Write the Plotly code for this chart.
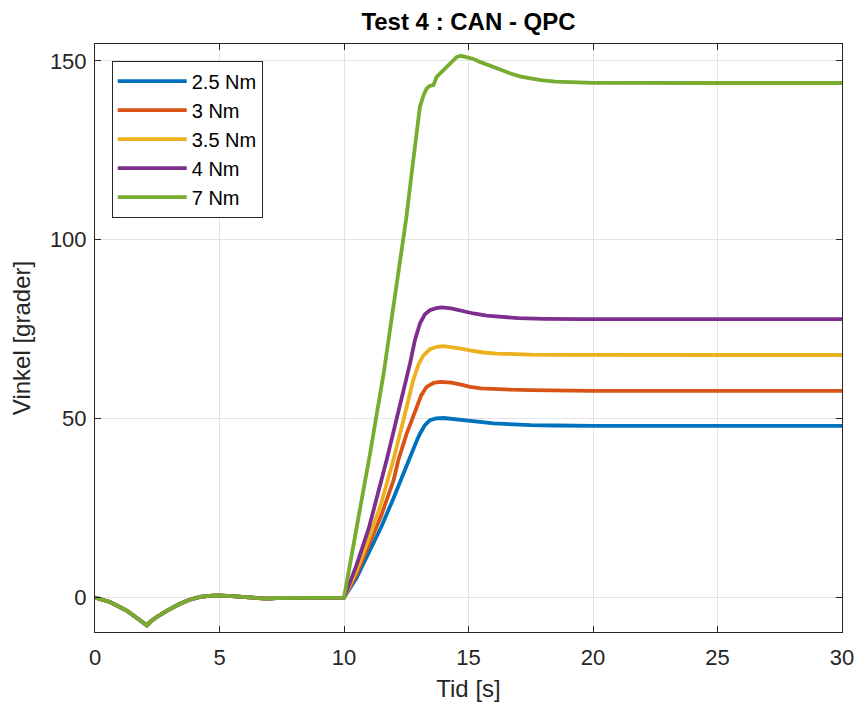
import plotly.graph_objects as go

# Common start-up phase (identical for every torque level)
t_pre = [0, 0.6, 1.27, 1.81, 1.95, 2.08, 2.25, 2.48, 2.9, 3.41, 3.8, 4.22, 4.6, 4.89, 5.5, 6.2, 6.9, 7.3, 8.23, 9.0, 9.6]
y_pre = [0, -1.2, -3.6, -6.3, -6.8, -7.7, -6.6, -5.4, -3.6, -1.7, -0.6, 0.2, 0.5, 0.6, 0.4, 0.1, -0.3, -0.1, 0.0, 0.0, 0.0]

# Response after the step at t = 10 s
t_25 = [10, 10.5, 11, 11.5, 12, 12.58, 12.9, 13.05, 13.25, 13.45, 13.7, 14.0, 14.5, 15.0, 15.46, 16.0, 16.7, 17.5, 18.5, 20, 25, 30]
y_25 = [0, 5.5, 12.5, 19.8, 28, 38.4, 43.5, 45.8, 48.2, 49.6, 50.1, 50.2, 49.9, 49.5, 49.1, 48.7, 48.4, 48.2, 48.1, 48.0, 48.0, 48.0]

t_3 = [10, 10.5, 11, 11.5, 12, 12.18, 12.5, 12.92, 13.1, 13.32, 13.6, 13.86, 14.3, 14.7, 15.06, 15.5, 16.0, 16.7, 17.5, 18.5, 20, 25, 30]
y_3 = [0, 6.5, 14.5, 23, 33, 38.4, 45.5, 53.3, 56.5, 58.9, 60.0, 60.3, 60.1, 59.5, 58.9, 58.5, 58.3, 58.1, 58.0, 57.9, 57.8, 57.8, 57.8]

t_35 = [10, 10.5, 11, 11.5, 11.98, 12.4, 12.78, 13.0, 13.19, 13.45, 13.72, 13.99, 14.4, 14.7, 15.06, 15.6, 16.13, 16.8, 17.5, 18.5, 20, 25, 30]
y_35 = [0, 7.5, 16.5, 26.5, 38.4, 50, 60.8, 65.3, 67.7, 69.4, 70.1, 70.3, 70.0, 69.6, 69.1, 68.5, 68.2, 68.0, 67.9, 67.85, 67.8, 67.8, 67.8]

t_4 = [10, 10.5, 11, 11.71, 12.2, 12.65, 12.85, 13.05, 13.25, 13.45, 13.7, 13.92, 14.3, 14.79, 15.2, 15.73, 16.3, 17.0, 18.0, 19.48, 25, 30]
y_4 = [0, 9, 19.5, 38.4, 52, 65.4, 72, 76.6, 79.2, 80.3, 80.9, 81.1, 80.8, 80.0, 79.4, 78.8, 78.4, 78.1, 77.9, 77.8, 77.8, 77.8]

t_7 = [10, 10.44, 11.04, 11.6, 12.12, 12.5, 12.76, 12.9, 13.05, 13.2, 13.32, 13.45, 13.59, 13.72, 13.9, 14.12,
       14.35, 14.53, 14.7, 14.93, 15.2, 15.46, 15.8, 16.13, 16.5, 16.8, 17.1, 17.47, 17.9, 18.5, 19.2, 20, 25, 30]
y_7 = [0, 17, 40, 63, 87, 106, 121, 130, 137.2, 140.5, 142.3, 143, 143.2, 145.5, 146.8, 148.3,
       150, 151.1, 151.4, 151.1, 150.5, 149.7, 148.8, 147.9, 146.9, 146.2, 145.6, 145.1, 144.6, 144.2, 143.95, 143.85, 143.8, 143.8]

series = [
    ("2.5 Nm", t_25, y_25, "#0072BD"),
    ("3 Nm", t_3, y_3, "#D95319"),
    ("3.5 Nm", t_35, y_35, "#EDB120"),
    ("4 Nm", t_4, y_4, "#7E2F8E"),
    ("7 Nm", t_7, y_7, "#77AC30"),
]

FONT = "Liberation Sans, Arial, sans-serif"
AXC = "#262626"
GRID = "#e3e3e3"

fig = go.Figure()
for name, t, y, color in series:
    fig.add_trace(go.Scatter(
        x=t_pre + t, y=y_pre + y, mode="lines", name=name,
        line=dict(color=color, width=3.8),
    ))

axis_common = dict(
    showline=True, linecolor=AXC, linewidth=1, mirror="allticks",
    ticks="inside", ticklen=6, tickcolor=AXC, tickwidth=1,
    showgrid=True, gridcolor=GRID, gridwidth=1, zeroline=False,
    tickfont=dict(family=FONT, size=22, color=AXC),
    automargin=False,
)

fig.update_layout(
    width=857, height=704,
    margin=dict(l=95, r=15, t=44, b=72),
    paper_bgcolor="white", plot_bgcolor="white",
    title=dict(text="<b>Test 4 : CAN - QPC</b>", x=(95 + 747 / 2) / 857, xanchor="center",
               y=1 - 22 / 704, yanchor="middle",
               font=dict(family=FONT, size=24, color="black")),
    xaxis=dict(range=[0, 30], tickvals=[0, 5, 10, 15, 20, 25, 30], ticklabelstandoff=6,
               title=dict(text="Tid [s]", font=dict(family=FONT, size=24, color=AXC), standoff=10),
               **axis_common),
    yaxis=dict(range=[-9.6, 154.7], tickvals=[0, 50, 100, 150], ticklabelstandoff=3,
               title=dict(text="Vinkel [grader]", font=dict(family=FONT, size=24, color=AXC), standoff=12),
               **axis_common),
    legend=dict(
        x=0.0224, y=0.9716, xanchor="left", yanchor="top",
        bgcolor="white", bordercolor=AXC, borderwidth=1,
        font=dict(family=FONT, size=20, color="black"),
        itemwidth=69, tracegroupgap=0,
    ),
    showlegend=True,
)

fig.write_html("out.html")
